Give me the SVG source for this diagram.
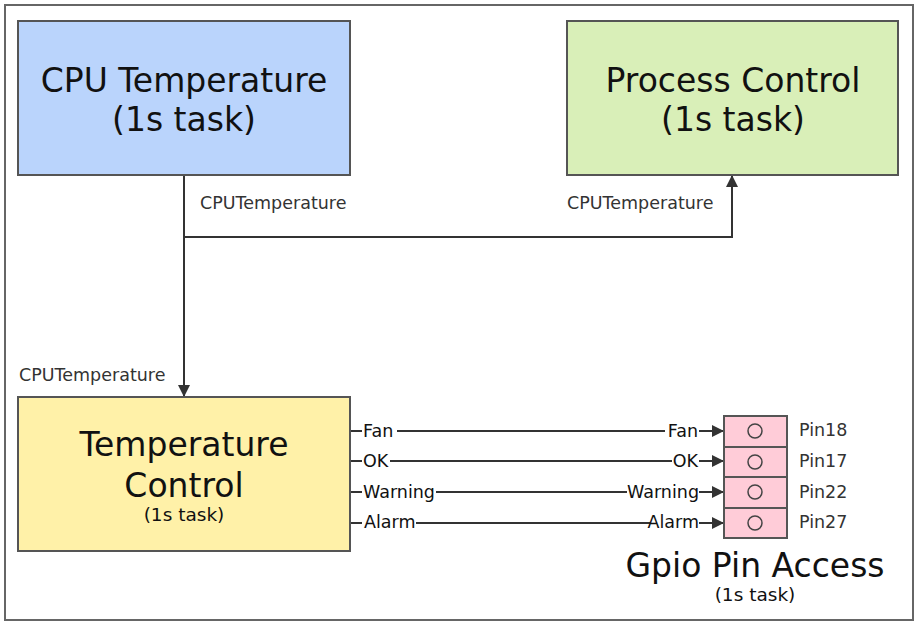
<svg xmlns="http://www.w3.org/2000/svg" width="919" height="626" viewBox="0 0 919 626">
<defs>
<marker id="arr" markerWidth="12" markerHeight="12" viewBox="0 0 12 12" refX="12" refY="6" orient="auto" markerUnits="userSpaceOnUse">
<path d="M0,0 L12,6 L0,12 Z" fill="#333"/>
</marker>
<style>
.box{stroke:#555;stroke-width:2}
.big{font-family:"DejaVu Sans",Verdana,sans-serif;font-size:33px;fill:#111;text-anchor:middle}
.small{font-family:"DejaVu Sans",Verdana,sans-serif;font-size:18.5px;fill:#111;text-anchor:middle}
.lbl{font-family:"DejaVu Sans",Verdana,sans-serif;font-size:17.5px;fill:#111}
.clbl{font-family:"DejaVu Sans",Verdana,sans-serif;font-size:17.5px;fill:#333}
.line{stroke:#333;stroke-width:2;fill:none}
.pin{fill:#ffccd8;stroke:#555;stroke-width:2}
.bg{fill:#fff}
</style>
</defs>
<rect x="5" y="5" width="908" height="615" fill="#fff" stroke="#666" stroke-width="2"/>
<g id="connectors">
<path class="line" d="M184,175 V397" marker-end="url(#arr)"/>
<path class="line" d="M184,237 H732 V175" marker-end="url(#arr)"/>
<text class="clbl" x="200" y="209">CPUTemperature</text>
<text class="clbl" x="567" y="209">CPUTemperature</text>
<text class="clbl" x="19" y="381">CPUTemperature</text>
<path class="line" d="M350,431 H724" marker-end="url(#arr)"/>
<path class="line" d="M350,461 H724" marker-end="url(#arr)"/>
<path class="line" d="M350,492 H724" marker-end="url(#arr)"/>
<path class="line" d="M350,523 H724" marker-end="url(#arr)"/>
<rect class="bg" x="362" y="422" width="35" height="18"/>
<text class="lbl" x="363" y="437">Fan</text>
<rect class="bg" x="665" y="423" width="34" height="18"/>
<text class="lbl" x="698" y="437" text-anchor="end">Fan</text>
<rect class="bg" x="362" y="452" width="28" height="18"/>
<text class="lbl" x="363" y="467">OK</text>
<rect class="bg" x="672" y="452" width="27" height="18"/>
<text class="lbl" x="698" y="467" text-anchor="end">OK</text>
<rect class="bg" x="362" y="483" width="74" height="18"/>
<text class="lbl" x="363" y="498">Warning</text>
<rect class="bg" x="627" y="483" width="72" height="18"/>
<text class="lbl" x="699" y="498" text-anchor="end">Warning</text>
<rect class="bg" x="362" y="514" width="54" height="18"/>
<text class="lbl" x="364" y="528">Alarm</text>
<rect class="bg" x="650" y="514" width="49" height="18"/>
<text class="lbl" x="699" y="528" text-anchor="end">Alarm</text>
</g>
<g id="cpu-temperature">
<rect class="box" x="18" y="21" width="332" height="154" fill="#bad4fc"/>
<text class="big" x="184" y="92">CPU Temperature</text>
<text class="big" x="184" y="131">(1s task)</text>
</g>
<g id="process-control">
<rect class="box" x="567" y="21" width="331" height="154" fill="#d9efb8"/>
<text class="big" x="733" y="92">Process Control</text>
<text class="big" x="733" y="131">(1s task)</text>
</g>
<g id="temperature-control">
<rect class="box" x="18" y="397" width="332" height="154" fill="#fff1a8"/>
<text class="big" x="184" y="456">Temperature</text>
<text class="big" x="184" y="497">Control</text>
<text class="small" x="184" y="521">(1s task)</text>
</g>
<g id="gpio-pin-access">
<rect class="pin" x="724" y="416" width="63" height="31"/>
<rect class="pin" x="724" y="447" width="63" height="30"/>
<rect class="pin" x="724" y="477" width="63" height="31"/>
<rect class="pin" x="724" y="508" width="63" height="30"/>
<circle cx="755" cy="431" r="7" fill="none" stroke="#444" stroke-width="1.5"/>
<circle cx="755" cy="462" r="7" fill="none" stroke="#444" stroke-width="1.5"/>
<circle cx="755" cy="492" r="7" fill="none" stroke="#444" stroke-width="1.5"/>
<circle cx="755" cy="523" r="7" fill="none" stroke="#444" stroke-width="1.5"/>
<text class="clbl" x="799" y="436">Pin18</text>
<text class="clbl" x="799" y="467">Pin17</text>
<text class="clbl" x="799" y="498">Pin22</text>
<text class="clbl" x="799" y="528">Pin27</text>
<text class="big" x="755" y="577">Gpio Pin Access</text>
<text class="small" x="755" y="601">(1s task)</text>
</g>
</svg>
